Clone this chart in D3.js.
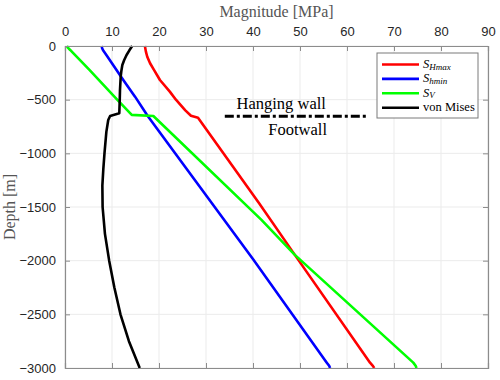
<!DOCTYPE html>
<html>
<head>
<meta charset="utf-8">
<script src="https://cdn.jsdelivr.net/npm/d3@7"></script>
<style>
  body { margin: 0; background: #fff; }
  .tick text { font-family: "Liberation Sans", Arial, sans-serif; font-size: 13px; fill: #262626; }
  .serif { font-family: "Liberation Serif", "Times New Roman", serif; }
</style>
</head>
<body>
<div id="chart"></div>
<script>
// data (depth in m, magnitude in MPa)
const shmaxDepth = [0, -50, -100, -161, -220, -317, -425, -500, -600, -650, -668, -1465, -1946, -2950, -2980, -3000];
const shmaxVal   = [17.0, 17.2, 17.5, 18.1, 18.9, 20.2, 22.3, 23.6, 25.6, 26.8, 28.3, 41.3, 48.9, 64.9, 65.5, 65.8];

const shminDepth = [0, -20, -40, -84, -317, -472, -652, -1992, -2950, -2980, -3000];
const shminVal   = [7.8, 7.9, 8.1, 8.8, 12.4, 14.9, 17.6, 40.1, 55.7, 56.2, 56.4];

const svDepth = [0, -15, -37, -60, -223, -500, -642, -652, -1620, -1946, -2950, -2980, -3000];
const svVal   = [0.4, 0.6, 1.1, 1.6, 5.2, 11.1, 14.2, 18.8, 41.8, 48.9, 74.1, 74.6, 74.8];

const vmDepth = [0, -40, -84, -130, -177, -230, -286, -410, -500, -627, -652, -689, -800, -1000, -1150, -1300, -1500, -1750, -2000, -2250, -2500, -2750, -3000];
const vmVal   = [14.3, 13.7, 13.1, 12.6, 12.2, 12.0, 11.85, 11.7, 11.65, 11.55, 9.6, 9.2, 8.8, 8.4, 8.15, 7.95, 8.0, 8.5, 9.4, 10.5, 11.8, 13.6, 15.9];

const seriesNames  = ["SHmax", "Shmin", "SV", "von Mises"];
const seriesColors = ["#ff0000", "#0000ff", "#00ff00", "#000000"];

const xTicks = [0, 10, 20, 30, 40, 50, 60, 70, 80, 90];
const yTicks = [0, -500, -1000, -1500, -2000, -2500, -3000];

// fault annotation
const faultDepth = -655;
const faultX = [34, 64.5];

// set the dimensions and margins of the graph
const margin = {top: 46, right: 12, bottom: 12, left: 65},
    width = 500 - margin.left - margin.right,
    height = 380 - margin.top - margin.bottom;

const svg = d3.select("#chart")
  .append("svg")
    .attr("width", 500)
    .attr("height", 380)
  .append("g")
    .attr("transform", `translate(${margin.left}, ${margin.top})`);

const x = d3.scaleLinear().domain([0, 90]).range([0, width]);
const y = d3.scaleLinear().domain([0, -3000]).range([0, height]);

// grid
svg.append("g").selectAll("line")
  .data(xTicks).join("line")
    .attr("x1", d => x(d)).attr("x2", d => x(d))
    .attr("y1", 0).attr("y2", height)
    .attr("stroke", "#ebebeb");
svg.append("g").selectAll("line")
  .data(yTicks).join("line")
    .attr("x1", 0).attr("x2", width)
    .attr("y1", d => y(d)).attr("y2", d => y(d))
    .attr("stroke", "#ebebeb");

// lines
const series = [
  {d: shmaxDepth, v: shmaxVal},
  {d: shminDepth, v: shminVal},
  {d: svDepth, v: svVal},
  {d: vmDepth, v: vmVal}
];
const line = d3.line().x(p => x(p[1])).y(p => y(p[0]));
series.forEach((s, i) => {
  svg.append("path")
    .datum(s.d.map((dd, k) => [dd, s.v[k]]))
    .attr("fill", "none")
    .attr("stroke", seriesColors[i])
    .attr("stroke-width", 2.6)
    .attr("stroke-linejoin", "round")
    .attr("d", line);
});

// axes
const axColor = "#8c8c8c";
const axTop = svg.append("g")
  .call(d3.axisTop(x).tickValues(xTicks).tickSize(-5).tickPadding(10));
const axLeft = svg.append("g")
  .call(d3.axisLeft(y).tickValues(yTicks).tickSize(-5).tickPadding(9).tickFormat(d3.format("d")));
const axBottom = svg.append("g")
  .attr("transform", `translate(0, ${height})`)
  .call(d3.axisBottom(x).tickValues(xTicks).tickSize(-5).tickFormat(""));
const axRight = svg.append("g")
  .attr("transform", `translate(${width}, 0)`)
  .call(d3.axisRight(y).tickValues(yTicks).tickSize(-5).tickFormat(""));
[axTop, axLeft, axBottom, axRight].forEach(a => {
  a.select(".domain").attr("stroke", axColor).attr("stroke-width", 1.2);
  a.selectAll(".tick line").attr("stroke", axColor);
});

// titles
svg.append("text")
  .attr("class", "serif")
  .attr("x", width / 2).attr("y", -29)
  .attr("text-anchor", "middle")
  .attr("font-size", 16)
  .attr("fill", "#555")
  .text("Magnitude [MPa]");
svg.append("text")
  .attr("class", "serif")
  .attr("transform", `translate(${-50}, ${height / 2}) rotate(-90)`)
  .attr("text-anchor", "middle")
  .attr("font-size", 16)
  .attr("fill", "#555")
  .text("Depth [m]");

// fault line and labels
svg.append("line")
  .attr("x1", x(faultX[0])).attr("x2", x(faultX[1]))
  .attr("y1", y(faultDepth)).attr("y2", y(faultDepth))
  .attr("stroke", "#000").attr("stroke-width", 3)
  .attr("stroke-dasharray", "9,3,3,3");
svg.append("text")
  .attr("class", "serif")
  .attr("x", x(46)).attr("y", y(faultDepth) - 7)
  .attr("text-anchor", "middle").attr("font-size", 16.5)
  .text("Hanging wall");
svg.append("text")
  .attr("class", "serif")
  .attr("x", x(49.5)).attr("y", y(faultDepth) + 19)
  .attr("text-anchor", "middle").attr("font-size", 16.5)
  .text("Footwall");

// legend
const lg = svg.append("g").attr("transform", `translate(${377 - margin.left}, ${53 - margin.top})`);
lg.append("rect")
  .attr("width", 101).attr("height", 65)
  .attr("fill", "#fff").attr("stroke", "#7a7a7a");
const labels = [
  ["S", "Hmax"], ["S", "hmin"], ["S", "V"], ["von Mises", null]
];
labels.forEach((lab, i) => {
  const yy = 11.5 + i * 14.4;
  lg.append("line")
    .attr("x1", 5).attr("x2", 42).attr("y1", yy).attr("y2", yy)
    .attr("stroke", seriesColors[i]).attr("stroke-width", 2.6);
  const t = lg.append("text")
    .attr("class", "serif")
    .attr("x", 46).attr("y", yy + 3.5)
    .attr("font-size", 12.5);
  if (lab[1]) {
    t.append("tspan").attr("font-style", "italic").text(lab[0]);
    t.append("tspan").attr("font-style", "italic").attr("font-size", 9)
      .attr("dy", 1.5).text(lab[1]);
  } else {
    t.text(lab[0]);
  }
});
</script>
</body>
</html>
